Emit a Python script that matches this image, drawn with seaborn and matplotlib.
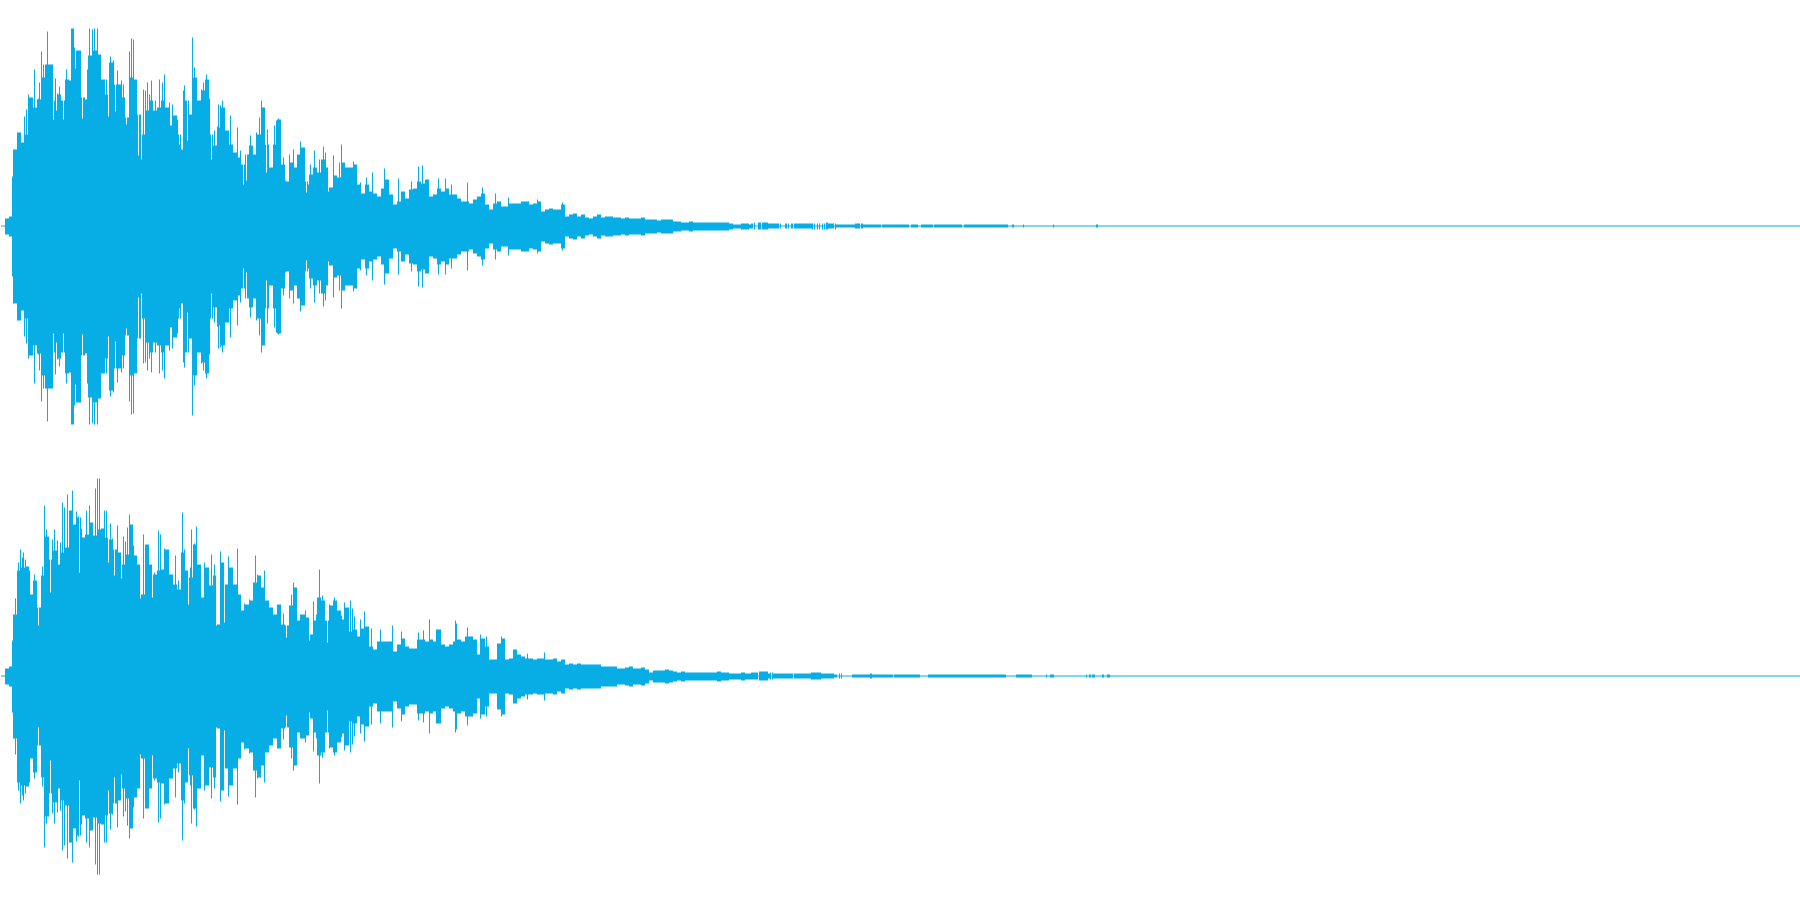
import numpy as np
import pandas as pd
import matplotlib
matplotlib.use("Agg")
import matplotlib.pyplot as plt
import seaborn as sns

# --- readings, amplitude in image pixels from the channel centre ---
WAVE_COLOR = "#06AEE5"
N_COLUMNS = 1800
BODY_STEP = 4

# left channel, running envelope, one reading per 4 columns
TOP_BODY = [0.5, 8, 10, 77, 94, 84, 92, 129, 119, 127, 149, 162, 162, 126, 132, 126, 147, 146, 158, 176, 129, 127,
            171, 176, 172, 147, 132, 164, 142, 142, 129, 109, 149, 147, 112, 92, 116, 126, 116, 119, 126, 119, 101,
            111, 92, 77, 126, 112, 149, 126, 136, 147, 92, 81, 99, 119, 96, 82, 74, 69, 62, 72, 81, 72, 92, 119, 82,
            59, 82, 107, 62, 45, 64, 59, 72, 79, 45, 52, 59, 54, 67, 59, 39, 51, 49, 64, 59, 59,
            62, 42, 33, 42, 35, 33, 30, 38, 47, 32, 22, 25, 35, 28, 37, 38, 45, 43, 47, 30, 32, 38, 35, 38, 32, 32,
            28, 25, 25, 23, 27, 30, 33, 22, 17, 23, 25, 20, 20, 23, 23, 23, 25, 25, 22, 23, 25, 15, 17, 18, 17, 17,
            22, 10, 12, 13, 10, 12, 9, 8, 10, 12, 9, 10, 10, 9, 9, 8, 9, 8, 8, 8, 9, 7, 7, 7, 6, 7, 7, 7, 5, 5, 4, 4,
            5, 4, 4, 4, 4, 4, 4, 4, 4, 4, 3, 2, 2, 3, 3, 2]

# single tall columns
TOP_SPIKE_X = [11, 23, 25, 27, 33, 40, 46, 54, 65, 70, 71, 72, 73, 75, 88, 91, 93, 96, 109, 112, 116, 128, 130, 132,
               146, 150, 161, 163, 168, 183, 191, 193, 202, 205, 217, 219, 221, 229, 236, 249, 255, 258, 260, 266,
               275, 277, 292, 297, 299, 313, 322, 332, 340,
               37, 38, 42, 44, 48, 50, 56, 58, 86, 87, 99, 101, 105, 107, 118, 120, 122, 142, 144, 148, 154, 158,
               171, 173, 176, 182, 200, 208, 213, 216, 223, 233, 239, 248, 257, 262, 273, 282, 288, 309, 318, 324, 338,
               352, 359, 365, 371, 383, 397, 410, 417, 421, 437, 444, 450, 466, 481, 494, 507, 536, 561]
TOP_SPIKE_AMP = [50, 110, 117, 132, 157, 175, 195, 148, 157, 198, 198, 198, 179, 176, 198, 197, 198, 198, 170, 166,
                 156, 175, 188, 187, 144, 146, 144, 152, 124, 141, 189, 159, 144, 152, 122, 121, 126, 111, 99, 91, 94,
                 109, 126, 97, 106, 108, 77, 71, 85, 76, 80, 71, 82,
                 128, 144, 162, 162, 162, 153, 133, 140, 157, 171, 148, 135, 147, 164, 128, 146, 142, 137, 136, 132,
                 126, 147, 122, 111, 107, 136, 137, 128, 96, 100, 104, 71, 76, 81, 92, 88, 101, 69, 72, 62, 67, 74, 64,
                 65, 44, 49, 54, 58, 48, 45, 60, 61, 48, 48, 42, 44, 39, 33, 29, 27, 24]

# narrow white slits in the body
TOP_DIP_X = [52, 55, 62, 81, 107, 114, 125, 137, 140, 178, 180, 186, 210, 242, 245, 265, 284, 305, 307, 327]
TOP_DIP_AMP = [107, 116, 107, 108, 110, 115, 102, 71, 67, 82, 77, 86, 67, 42, 46, 54, 46, 34, 42, 35]

# quiet tail, runs of columns
TOP_TAIL_START = [750, 753, 757, 761, 767, 779, 784, 787, 790, 793, 811, 813, 816, 818, 821, 823, 825, 827, 834, 835,
                  854, 860, 862, 881, 910, 920, 933, 963, 1011, 1022, 1052, 1095]
TOP_TAIL_END = [752, 754, 760, 767, 778, 780, 786, 788, 792, 811, 812, 814, 817, 819, 822, 824, 827, 833, 835, 854,
                859, 862, 880, 908, 917, 932, 961, 1007, 1013, 1023, 1053, 1097]
TOP_TAIL_AMP = [2.3, 3.3, 3.5, 3.5, 2.3, 2.3, 2.3, 2.3, 2.3, 2.3, 3, 3, 3, 3, 3, 3, 3.5, 2.3, 3, 1.5,
                2.5, 2.5, 1.6, 1.6, 1.6, 1.6, 1.6, 1.6, 1.6, 1.6, 1.6, 1.6]

# right channel
BOTTOM_BODY = [0.5, 8, 10, 62, 106, 109, 110, 82, 96, 69, 101, 140, 117, 126, 112, 124, 129, 166, 152, 159, 139, 142,
               154, 141, 147, 148, 139, 137, 127, 124, 112, 122, 152, 121, 112, 82, 132, 112, 102, 106, 107, 127, 102,
               92, 87, 124, 106, 99, 132, 112, 79, 109, 91, 101, 52, 114, 92, 109, 92, 82, 66, 72, 76, 94, 101, 89,
               76, 69, 62, 72, 52, 51, 71, 89, 56, 62, 59, 42, 56, 79, 76, 56, 71, 76, 66, 57, 69, 45,
               47, 40, 48, 50, 30, 27, 35, 35, 35, 35, 25, 32, 38, 30, 28, 28, 37, 37, 35, 37, 35, 47, 32, 30, 32, 35,
               37, 35, 40, 40, 37, 22, 38, 30, 17, 17, 33, 38, 17, 18, 27, 22, 20, 18, 18, 17, 18, 18, 17, 17, 18, 15,
               17, 12, 13, 12, 13, 12, 12, 12, 12, 12, 10, 10, 10, 10, 8, 8, 9, 10, 8, 8, 9, 7, 4, 6, 6, 6, 7, 6, 5, 4,
               5, 4, 4, 4, 4, 4, 4, 4, 4, 5, 4, 4, 3, 3, 3, 4, 3, 3]

BOTTOM_SPIKE_X = [11, 17, 19, 22, 28, 33, 43, 45, 51, 53, 61, 63, 66, 69, 71, 75, 77, 80, 85, 88, 94, 96, 98, 103, 105,
                  109, 116, 122, 126, 128, 142, 157, 159, 163, 174, 181, 190, 195, 203, 210, 219, 227, 236, 254, 256,
                  263, 292, 295, 312, 318, 321, 333, 343, 349,
                  12, 14, 21, 24, 35, 41, 47, 56, 59, 73, 81, 91, 100, 111, 115, 124, 132, 144, 153, 161, 167, 177,
                  183, 189, 193, 213, 229, 243, 248, 259, 270, 282, 290, 299, 304, 315, 328, 337, 340,
                  351, 353, 359, 363, 370, 379, 391, 400, 417, 422, 428, 435, 454, 455, 466, 479, 485, 500, 526, 543]
BOTTOM_SPIKE_AMP = [36, 114, 127, 124, 106, 102, 171, 147, 137, 147, 174, 169, 182, 165, 186, 165, 160, 148, 166, 171,
                    188, 198, 198, 166, 166, 153, 151, 140, 149, 162, 142, 146, 142, 128, 121, 164, 147, 150, 114, 122,
                    125, 120, 128, 121, 102, 106, 94, 78, 75, 107, 81, 79, 74, 76,
                    62, 78, 119, 117, 92, 110, 118, 136, 134, 143, 136, 141, 148, 138, 124, 135, 131, 131, 104, 106,
                    103, 96, 127, 109, 133, 112, 109, 73, 77, 91, 64, 63, 82, 62, 66, 62, 72, 66, 61,
                    68, 60, 57, 65, 48, 47, 51, 45, 44, 46, 57, 47, 56, 53, 49, 42, 40, 40, 23, 24]

BOTTOM_DIP_X = [37, 49, 78, 107, 113, 120, 139, 151, 187, 215, 223, 285, 308, 326]
BOTTOM_DIP_AMP = [51, 84, 104, 114, 101, 98, 78, 79, 72, 51, 54, 39, 36, 34]

BOTTOM_TAIL_START = [750, 758, 767, 769, 771, 772, 778, 793, 810, 820, 833, 838, 840, 851, 869, 871, 893, 927, 1015,
                     1016, 1049, 1045, 1085, 1088, 1091, 1106, 1101]
BOTTOM_TAIL_END = [757, 767, 769, 770, 772, 778, 792, 810, 820, 833, 836, 839, 841, 869, 871, 892, 919, 1005, 1031,
                   1016, 1053, 1046, 1086, 1090, 1094, 1109, 1103]
BOTTOM_TAIL_AMP = [3.5, 4.5, 2.3, 3.3, 3.3, 2.3, 2.3, 2.3, 3.5, 2.3, 1.5, 2.3, 2.3, 1.5, 2.3, 1.5, 1.5, 1.5, 1.5,
                   1.5, 1.5, 1.5, 1.5, 1.5, 1.5, 1.5, 1.5]


def build_channel(body, spike_x, spike_amp, dip_x, dip_amp, tail_start, tail_end, tail_amp):
    amp = np.full(N_COLUMNS, 0.5)
    held = np.repeat(body, BODY_STEP)
    amp[:len(held)] = held
    for start, end, level in zip(tail_start, tail_end, tail_amp):
        amp[start:end] = level
    for x, level in zip(spike_x, spike_amp):
        amp[x] = max(amp[x], level)
    for x, level in zip(dip_x, dip_amp):
        amp[x] = level
    column = np.arange(N_COLUMNS)
    return pd.DataFrame({
        "column": np.concatenate([column, column]),
        "time": np.concatenate([column, column]) + 0.5,
        "level": np.concatenate([amp, -amp]),
    })


sns.set_style("white")
fig, axes = plt.subplots(2, 1, figsize=(18, 9), dpi=100)
fig.subplots_adjust(left=0, right=1, top=1, bottom=0, hspace=0)

channels = [
    build_channel(TOP_BODY, TOP_SPIKE_X, TOP_SPIKE_AMP, TOP_DIP_X, TOP_DIP_AMP,
                  TOP_TAIL_START, TOP_TAIL_END, TOP_TAIL_AMP),
    build_channel(BOTTOM_BODY, BOTTOM_SPIKE_X, BOTTOM_SPIKE_AMP, BOTTOM_DIP_X, BOTTOM_DIP_AMP,
                  BOTTOM_TAIL_START, BOTTOM_TAIL_END, BOTTOM_TAIL_AMP),
]

for ax, df in zip(axes, channels):
    sns.lineplot(data=df, x="time", y="level", units="column", estimator=None, color=WAVE_COLOR,
                 linewidth=0.72, solid_capstyle="butt", ax=ax, legend=False)
    ax.set_xlim(0, N_COLUMNS)
    # zero sits on pixel row 225 of each panel
    ax.set_ylim(-224.5, 225.5)
    ax.axis("off")

fig.savefig("out.png", dpi=100)
plt.close(fig)
